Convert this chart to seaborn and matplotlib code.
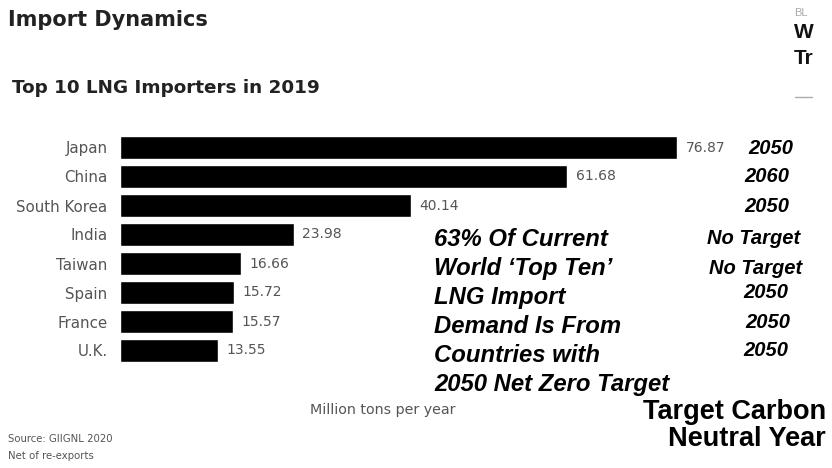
import matplotlib
matplotlib.use("Agg")
import matplotlib.pyplot as plt
import seaborn as sns
import pandas as pd

# Top 10 LNG importers, 2019 (million tons per year)
countries = ["Japan", "China", "South Korea", "India", "Taiwan", "Spain", "France", "U.K."]
imports_mt = [76.87, 61.68, 40.14, 23.98, 16.66, 15.72, 15.57, 13.55]
value_labels = ["76.87", "61.68", "40.14", "23.98", "16.66", "15.72", "15.57", "13.55"]
target_years = ["2050", "2060", "2050", "No Target", "No Target", "2050", "2050", "2050"]
callout_lines = ["63% Of Current", "World \u2018Top Ten\u2019", "LNG Import",
                 "Demand Is From", "Countries with", "2050 Net Zero Target"]

df = pd.DataFrame({"country": countries, "imports": imports_mt})

sns.set_theme(style="white")
plt.rcParams["font.family"] = ["Liberation Sans", "DejaVu Sans"]

W, H = 832, 468
fig = plt.figure(figsize=(W / 100, H / 100), dpi=100)

def px(x, y):
    return x / W, 1 - y / H

GREY = "#555555"

# bar area in pixels
left, right, top, bottom = 120, 700, 133, 365
ax = fig.add_axes([left / W, 1 - bottom / H, (right - left) / W, (bottom - top) / H])
sns.barplot(data=df, y="country", x="imports", color="black", width=0.76,
            saturation=1, ax=ax, orient="h")
ax.set_xlim(0, (right - left) / 7.246)
ax.set_ylim(len(countries) - 0.5, -0.5)
ax.set_xlabel("")
ax.set_ylabel("")
ax.set_xticks([])
for s in ax.spines.values():
    s.set_visible(False)
ax.tick_params(axis="y", length=0, pad=9, labelcolor=GREY)
for t in ax.get_yticklabels():
    t.set_fontfamily("DejaVu Sans")
    t.set_fontsize(10.8)

for i, (v, lab) in enumerate(zip(imports_mt, value_labels)):
    ax.text(v + 1.2, i, lab, va="center", ha="left", fontsize=10,
            family="DejaVu Sans", color=GREY, clip_on=False)

# headings
fig.text(*px(8, 20), "Import Dynamics", fontsize=15, fontweight="bold",
         family="DejaVu Sans", color="#222222", va="center", ha="left")
fig.text(*px(12, 88), "Top 10 LNG Importers in 2019", fontsize=13.2, fontweight="bold",
         family="DejaVu Sans", color="#222222", va="center", ha="left")

# axis caption and source
fig.text(*px(383, 410), "Million tons per year", fontsize=10.3, color=GREY,
         family="DejaVu Sans", ha="center", va="center")
fig.text(*px(8, 439), "Source: GIIGNL 2020", fontsize=7.3, color=GREY,
         family="DejaVu Sans", ha="left", va="center")
fig.text(*px(8, 456), "Net of re-exports", fontsize=7.3, color=GREY,
         family="DejaVu Sans", ha="left", va="center")

# target carbon neutral years per country
year_x = [771, 767, 767, 754, 756, 766, 768, 766]
for i, (yr, xc) in enumerate(zip(target_years, year_x)):
    yc = 148 + 29 * i + (4 if yr == "No Target" else 0)
    fig.text(*px(xc, yc), yr, fontsize=14.5, fontweight="bold", fontstyle="italic",
             color="black", ha="center", va="center")

# callout block
for k, line in enumerate(callout_lines):
    fig.text(*px(434, 240 + 28.9 * k), line, fontsize=17.2, fontweight="bold",
             fontstyle="italic", color="black", ha="left", va="center")

fig.text(*px(826, 412), "Target Carbon", fontsize=19.5, fontweight="bold",
         color="black", ha="right", va="center")
fig.text(*px(826, 439), "Neutral Year", fontsize=19.5, fontweight="bold",
         color="black", ha="right", va="center")

# edge of the neighbouring panel
fig.text(*px(794, 13), "BL", fontsize=8, color="#aaaaaa", ha="left", va="center")
fig.text(*px(794, 33), "W", fontsize=15, fontweight="bold", color="#111111",
         ha="left", va="center")
fig.text(*px(794, 58), "Tr", fontsize=15, fontweight="bold", color="#111111",
         ha="left", va="center")
fig.add_artist(plt.Line2D([795 / W, 812 / W], [1 - 97 / H, 1 - 97 / H],
                          color="#aaaaaa", lw=1))

fig.savefig("out.png", dpi=100)
